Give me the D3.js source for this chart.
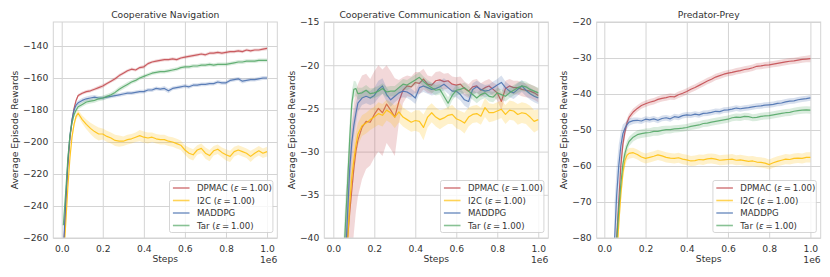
<!DOCTYPE html>
<html><head><meta charset="utf-8">
<script src="https://cdn.jsdelivr.net/npm/d3@7"></script>
<style>
body{margin:0;background:#fff}
text{font-family:"DejaVu Sans",sans-serif;fill:#333}
</style>
</head><body>
<svg id="chart" width="830" height="277"></svg>
<script>
// ---------------- DATA ----------------
const seriesNames = ["DPMAC", "I2C", "MADDPG", "Tar"];
const seriesEps = ["1.00", "1.00", null, "1.00"];
const panelTitles = ["Cooperative Navigation", "Cooperative Communication & Navigation", "Predator-Prey"];
const xTickValues = [0, 0.2, 0.4, 0.6, 0.8, 1.0];
const yTickValues = [
  [-260, -240, -220, -200, -180, -160, -140],
  [-40, -35, -30, -25, -20, -15],
  [-80, -70, -60, -50, -40, -30, -20]
];
const xLimits = [[-0.041, 1.05], [-0.044, 1.049], [-0.037, 1.05]];
const yLimits = [[-260, -125], [-40, -15], [-80, -20]];

// Panel 1: Cooperative Navigation
const p1Steps = [0.008,0.02,0.03,0.04,0.05,0.06,0.07,0.08,0.10,0.12,0.14,0.16,0.18,0.20,0.22,0.24,0.26,0.28,0.30,0.32,0.34,0.36,0.38,0.40,0.42,0.44,0.46,0.48,0.50,0.52,0.54,0.56,0.58,0.60,0.62,0.64,0.66,0.68,0.70,0.72,0.74,0.76,0.78,0.80,0.82,0.84,0.86,0.88,0.90,0.92,0.94,0.96,0.98,1.00];
const p1Dpmac = [-272,-238,-215,-198,-187,-179,-174,-171,-169.5,-168.5,-168,-167,-166,-165,-163.5,-162,-160.5,-158.5,-157,-155.5,-154.5,-155,-153.5,-153,-151,-150,-149.5,-149,-148.5,-148.5,-148,-148.5,-147.5,-147,-146.5,-146,-145.5,-145,-145.5,-144.5,-144.5,-144,-144.5,-144,-143.5,-143.5,-143,-143.5,-142.5,-143,-142.5,-142.5,-142,-141.5];
const p1DpmacSd = [3,2.5,2,1.5,1.2,1,1,1,1,1,1,1,1.2,1.2,1,1,1.2,1.2,1,1,1,1,1,1.2,1,1,1,1,1,1,1,1,1,1,1,1,1,1,1,1,1,1,1,1,1,1,1,1,1,1,1,1,1,1.1];
const p1I2c = [-275,-250,-228,-210,-197,-189,-184,-182,-186,-189,-191.5,-193.5,-195,-195,-196.5,-197.5,-199,-199.5,-199.5,-198.5,-198,-197,-196,-197,-197.5,-197,-198,-198.5,-198.5,-199.5,-200,-201,-202,-205,-207,-208,-205,-204,-207,-208.5,-205.5,-204.5,-206.5,-208,-209,-206,-205,-206,-207,-209,-207,-205.5,-207,-206];
const p1I2cSd = [3,3,2.5,2,2,2,2,2,2.5,3,3.5,4,4,3.5,3.5,3.5,3.5,3.5,3,3,3,3,3.5,3.5,3.5,3,3,3,3,3,3,3,3,3,3.5,3.5,3,3,3.5,3.5,3,3,3,3.5,3.5,3,3,3,3,3.5,3,3,3,3];
const p1Maddpg = [-268,-235,-212,-196,-186,-180,-177,-175.5,-174,-173,-172.5,-172,-172.5,-172.5,-172,-171.5,-171,-170.5,-170,-169.5,-169.5,-169,-168.5,-168.5,-167.5,-167.5,-166.5,-167,-166.5,-168,-166.5,-166,-165.5,-165,-165.5,-164.5,-164.5,-164,-164,-163.5,-163.5,-162.5,-163,-163,-161.5,-161,-160.5,-162,-161.5,-161,-161,-160.5,-160,-160];
const p1MaddpgSd = [3,2.5,2,1.5,1.5,1.5,1.5,1.5,1.5,1.5,1.5,1.3,1.3,1.2,1.2,1.2,1.2,1.2,1.2,1.2,1.2,1.2,1.2,1.2,1.2,1.2,1.2,1.2,1.5,1.5,1.2,1.2,1.2,1.2,1.2,1.2,1.2,1.2,1.2,1.2,1.2,1.2,1.2,1.2,1.2,1.2,1.2,1.5,1.2,1.2,1.2,1.2,1.2,1.2];
const p1Tar = [-252,-230,-210,-196,-188,-183,-180,-178,-176.5,-175,-174.5,-174,-173,-172.5,-171.5,-170.5,-169,-167,-165.5,-164,-162.5,-161.5,-160,-159,-158,-157,-156.5,-156,-156,-155.5,-155,-154.5,-153.5,-153,-153,-152.5,-152.5,-152,-152,-151.5,-152,-151.5,-151.5,-151.5,-151,-150.5,-150,-150,-149.5,-149.5,-149.5,-149,-149,-149];
const p1TarSd = [3,2.5,2,1.5,1.5,1.5,1.5,1.5,1.5,1.5,1.5,1.5,1.5,1.5,1.5,1.5,1.5,1.5,1.5,1.5,1.3,1.3,1.3,1.2,1.2,1.2,1.2,1.2,1.2,1.2,1.2,1.2,1.2,1.2,1.2,1.2,1.2,1.2,1.2,1.2,1.2,1.2,1.2,1.2,1.2,1.2,1.2,1.2,1.2,1.2,1.2,1.2,1.2,1.2];

// Panel 2: Cooperative Communication & Navigation
const p2Steps = [0.05,0.06,0.07,0.08,0.09,0.10,0.11,0.12,0.14,0.16,0.18,0.20,0.22,0.24,0.26,0.28,0.30,0.32,0.34,0.36,0.38,0.40,0.42,0.44,0.46,0.48,0.50,0.52,0.54,0.56,0.58,0.60,0.62,0.64,0.66,0.68,0.70,0.72,0.74,0.76,0.78,0.80,0.82,0.84,0.86,0.88,0.90,0.92,0.94,0.96,0.98,1.00];
const p2Dpmac = [-48,-44,-40,-37,-34.5,-32,-30,-28.7,-27.2,-26.5,-26.6,-25.7,-25,-25.5,-24.5,-25.2,-26,-24.2,-22.9,-22.4,-22.5,-22,-22.1,-21.6,-22.2,-22.3,-21.8,-21.7,-21.9,-21.8,-22.2,-22.3,-22.2,-22.7,-23,-22.5,-22.4,-22.9,-22.6,-22.4,-22.8,-23.2,-24.2,-22.7,-22.4,-22.6,-22.6,-22.8,-22.9,-23,-23.2,-23.5];
const p2DpmacSd = [6,7,8,8,8,7.5,7,6.5,6,5.5,5,5,5,5,4.5,4.5,4.5,2.5,1.5,1.2,1.2,1.2,1.3,1.2,1,1,1,1,0.9,0.9,0.9,0.9,0.9,0.8,0.8,0.8,0.8,0.8,0.8,0.8,0.8,0.9,1,0.9,0.8,0.8,0.8,0.8,0.8,0.8,0.8,0.8];
const p2I2c = [-50,-45,-40,-36,-33,-31,-29.3,-28,-27,-26.7,-26.3,-26,-25.6,-25.8,-25.2,-25.5,-26,-25.4,-26,-26.3,-26.6,-26.4,-26.5,-27.2,-26,-25.5,-26,-26.3,-26.1,-25.8,-25.7,-26.2,-26.4,-26.7,-26,-25.7,-25.6,-25.9,-24.9,-25.5,-25.5,-25.3,-25.1,-25.7,-25.2,-25.3,-25.7,-25.5,-25.6,-26,-26.5,-26.3];
const p2I2cSd = [3,3,3,2.5,2,1.8,1.5,1.3,1.2,1.2,1.2,1.2,1.3,1.3,1.2,1.2,1.3,1.2,1.1,1.1,1.1,1.2,1.3,1.5,1.2,1.1,1.1,1.1,1,1,1.1,1.1,1.1,1.2,1.1,1,1,1,1.1,1.1,1,1,1,1.1,1.1,1.1,1.2,1.2,1.2,1.3,1.3,1.2];
const p2Maddpg = [-47,-42,-37,-32,-29,-27,-25.6,-24.4,-23.8,-23.6,-23.8,-23.5,-22.8,-22.4,-23.4,-24,-23.6,-23.2,-23,-23.1,-23.4,-23.8,-22.6,-22.4,-22.6,-22.8,-22.7,-22.5,-22.2,-22.6,-23,-23,-23.4,-24,-24.2,-22.8,-22.5,-22.8,-23,-22.9,-22.6,-22.3,-22,-22.6,-23,-23.2,-22.8,-22.4,-22.9,-23.3,-23.6,-23.8];
const p2MaddpgSd = [3,3,3,2.5,2,1.5,1.2,1,0.8,0.8,0.8,0.9,1,0.9,0.8,0.8,0.7,0.7,0.7,0.7,0.7,0.7,0.7,0.7,0.7,0.7,0.7,0.7,0.7,0.7,0.7,0.7,0.7,0.7,0.8,0.7,0.7,0.7,0.7,0.7,0.7,0.7,0.8,0.7,0.7,0.7,0.7,0.7,0.7,0.7,0.7,0.7];
const p2Tar = [-43,-38,-33.5,-28.5,-24.5,-22.8,-22.7,-23.3,-23.2,-22.9,-23.3,-23.2,-23,-22.7,-23.1,-23,-23,-22.6,-22.2,-22.3,-22,-21.7,-21.4,-21.9,-22.3,-22.6,-22.9,-22.8,-23.6,-24.4,-23.5,-22.9,-22.8,-22.6,-23,-23.4,-23.8,-23.4,-23.2,-23.6,-23.7,-23.2,-23.4,-23.6,-23.2,-22.9,-22.6,-22.4,-22.5,-22.8,-23,-23.2];
const p2TarSd = [3,3,2.5,2,1.5,1,0.8,0.7,0.6,0.6,0.6,0.6,0.6,0.6,0.6,0.6,0.6,0.6,0.6,0.6,0.6,0.6,0.6,0.6,0.6,0.6,0.6,0.6,0.7,0.7,0.6,0.6,0.6,0.6,0.6,0.6,0.6,0.6,0.6,0.6,0.6,0.6,0.6,0.6,0.6,0.6,0.6,0.6,0.6,0.6,0.6,0.6];

// Panel 3: Predator-Prey
const p3Steps = [0.05,0.06,0.07,0.08,0.09,0.10,0.11,0.12,0.14,0.16,0.18,0.20,0.22,0.24,0.26,0.28,0.30,0.32,0.34,0.36,0.38,0.40,0.42,0.44,0.46,0.48,0.50,0.52,0.54,0.56,0.58,0.60,0.62,0.64,0.66,0.68,0.70,0.72,0.74,0.76,0.78,0.80,0.82,0.84,0.86,0.88,0.90,0.92,0.94,0.96,0.98,1.00];
const p3Dpmac = [-90,-80,-70,-60,-54,-50.5,-48,-46.5,-45,-44,-43.2,-42.7,-42.3,-42,-41.5,-41.2,-41,-40.7,-40.8,-40.2,-39.8,-39.3,-38.7,-38.2,-37.6,-37,-36.4,-35.9,-35.3,-34.9,-34.5,-34.2,-34,-33.7,-33.5,-33.2,-33,-32.7,-32.3,-32.2,-32,-31.9,-31.7,-31.5,-31.3,-31.1,-30.9,-30.8,-30.6,-30.4,-30.3,-30.2];
const p3DpmacSd = [4,4,3,2.5,2,1.5,1.2,1,1,0.9,0.9,0.9,0.9,0.9,0.9,0.9,0.9,0.9,0.9,0.9,0.9,0.9,0.9,0.9,0.9,0.9,0.9,0.9,0.9,0.9,0.9,0.9,0.9,0.9,0.9,0.9,0.9,0.9,0.9,0.9,0.9,0.9,0.9,0.9,0.9,0.9,0.9,0.9,0.9,0.9,0.9,1];
const p3I2c = [-100,-86,-76,-68,-62,-58.5,-57,-56.5,-56.3,-56.8,-57.5,-57.9,-57.6,-57.3,-56.9,-57.2,-57.6,-57.8,-57.9,-57.7,-58.1,-58.3,-58.6,-58.5,-58.2,-58.3,-58,-57.9,-58.1,-58.4,-58.3,-58.2,-58.1,-58.4,-58.3,-58.5,-58.7,-58.6,-58.9,-59,-59.2,-59.6,-59.1,-58.7,-58.4,-58.1,-58.2,-57.9,-57.8,-57.9,-57.6,-57.6];
const p3I2cSd = [3,3,3,2.5,2,1.8,1.5,1.5,1.4,1.4,1.4,1.4,1.4,1.4,1.4,1.4,1.4,1.4,1.4,1.4,1.4,1.4,1.4,1.4,1.4,1.4,1.4,1.4,1.4,1.4,1.4,1.4,1.4,1.4,1.4,1.4,1.4,1.4,1.4,1.4,1.4,1.4,1.4,1.4,1.4,1.4,1.4,1.4,1.4,1.4,1.4,1.4];
const p3Maddpg = [-80,-68,-60,-54.5,-51,-49.5,-48.5,-47.8,-47.4,-47.3,-47.5,-47,-47.2,-46.9,-47.3,-46.8,-46.6,-46.9,-46.3,-46.5,-46,-45.8,-45.9,-45.6,-45.8,-45.4,-45.3,-45.1,-44.8,-44.9,-44.5,-44.4,-44.2,-43.9,-44.1,-43.9,-43.8,-43.6,-43.4,-43.3,-43.1,-43,-42.9,-42.6,-42.5,-42.2,-42,-41.9,-41.6,-41.4,-41.3,-41.1];
const p3MaddpgSd = [10,8,6,4,2.5,1.5,1.2,1,0.9,0.8,0.8,0.8,0.8,0.8,0.8,0.8,0.8,0.8,0.8,0.8,0.8,0.8,0.8,0.8,0.8,0.8,0.8,0.8,0.8,0.8,0.8,0.8,0.8,0.8,0.8,0.8,0.8,0.8,0.8,0.8,0.8,0.8,0.8,0.8,0.8,0.8,0.8,0.8,0.8,0.8,0.8,0.8];
const p3Tar = [-95,-81,-72,-65,-59.5,-56.5,-54.5,-53.2,-52,-51.3,-51,-50.8,-50.7,-50.4,-50.4,-50.1,-49.9,-49.9,-49.7,-49.6,-49.5,-49.3,-49,-48.8,-48.6,-48.2,-48.1,-47.8,-47.6,-47.4,-47.2,-47,-46.6,-46.4,-46.5,-46.2,-46.3,-46.6,-46.5,-46.2,-46.1,-46,-45.8,-45.6,-45.4,-45.2,-45.1,-44.8,-44.6,-44.5,-44.4,-44.5];
const p3TarSd = [3,3,3,2.5,2,1.8,1.5,1.3,1.2,1.2,1.2,1.2,1.2,1.2,1.2,1.2,1.1,1.1,1,1,1,1,1,1,1,1,1,1,1,1,1,1,1,1,1,1,1,1,1,1,1,1,1,1,1,1,1,1,1,1,1,1];

const panelSteps = [p1Steps, p2Steps, p3Steps];
const panelValues = [
  [p1Dpmac, p1I2c, p1Maddpg, p1Tar],
  [p2Dpmac, p2I2c, p2Maddpg, p2Tar],
  [p3Dpmac, p3I2c, p3Maddpg, p3Tar]
];
const panelSpreads = [
  [p1DpmacSd, p1I2cSd, p1MaddpgSd, p1TarSd],
  [p2DpmacSd, p2I2cSd, p2MaddpgSd, p2TarSd],
  [p3DpmacSd, p3I2cSd, p3MaddpgSd, p3TarSd]
];

// ---------------- STYLE / LAYOUT ----------------
const colors = ["#c44e52", "#ffc10e", "#4c72b0", "#55a868"];
const panelLeft = [53.3, 324.3, 596.7];
const plotW = 224, plotTop = 22, plotBottom = 238;
const gridColor = "#d4d4d4";

const svg = d3.select("#chart");

panelTitles.forEach((title, pi) => {
  const L = panelLeft[pi], R = L + plotW;
  const x = d3.scaleLinear().domain(xLimits[pi]).range([L, R]);
  const y = d3.scaleLinear().domain(yLimits[pi]).range([plotBottom, plotTop]);
  const g = svg.append("g");

  // grid via axes
  const gx = g.append("g").attr("transform", `translate(0,${plotBottom})`)
    .call(d3.axisBottom(x).tickValues(xTickValues).tickSize(-(plotBottom - plotTop)).tickPadding(7).tickFormat(d3.format(".1f")));
  const gy = g.append("g").attr("transform", `translate(${L},0)`)
    .call(d3.axisLeft(y).tickValues(yTickValues[pi]).tickSize(-plotW).tickPadding(5).tickFormat(d3.format("d")));
  [gx, gy].forEach(a => {
    a.select(".domain").remove();
    a.selectAll(".tick line").attr("stroke", gridColor).attr("stroke-width", 1);
    a.selectAll(".tick text").attr("fill", "#333").style("font-size", "9.2px").style("font-family", '"DejaVu Sans",sans-serif');
  });

  // clip
  const cid = "clip" + pi;
  svg.append("clipPath").attr("id", cid).append("rect")
    .attr("x", L).attr("y", plotTop).attr("width", plotW).attr("height", plotBottom - plotTop);
  const plot = g.append("g").attr("clip-path", `url(#${cid})`);

  const steps = panelSteps[pi];
  seriesNames.forEach((name, si) => {
    const vals = panelValues[pi][si], sds = panelSpreads[pi][si];
    const n = Math.min(steps.length, vals.length, sds.length);
    const data = d3.range(n).map(i => ({s: steps[i], v: vals[i], sd: sds[i]}));
    plot.append("path").datum(data)
      .attr("d", d3.area().x(d => x(d.s)).y0(d => y(d.v - d.sd)).y1(d => y(d.v + d.sd)))
      .attr("fill", colors[si]).attr("fill-opacity", 0.22).attr("stroke", "none");
    plot.append("path").datum(data)
      .attr("d", d3.line().x(d => x(d.s)).y(d => y(d.v)))
      .attr("fill", "none").attr("stroke", colors[si]).attr("stroke-width", 1.2)
      .attr("stroke-opacity", 0.9).attr("stroke-linejoin", "round");
  });

  // frame
  g.append("rect").attr("x", L).attr("y", plotTop).attr("width", plotW).attr("height", plotBottom - plotTop)
    .attr("fill", "none").attr("stroke", gridColor).attr("stroke-width", 1);

  // title
  g.append("text").attr("x", (L + R) / 2).attr("y", 18).attr("text-anchor", "middle")
    .style("font-size", "9.2px").text(title);
  // x label
  g.append("text").attr("x", (L + R) / 2).attr("y", 262).attr("text-anchor", "middle")
    .style("font-size", "9.2px").text("Steps");
  // offset text
  g.append("text").attr("x", R).attr("y", 263).attr("text-anchor", "end")
    .style("font-size", "9.2px").text("1e6");
  // y label
  const yl = [15, 291.7, 563.3][pi];
  g.append("text").attr("transform", `translate(${yl},${(plotTop + plotBottom) / 2}) rotate(-90)`)
    .attr("text-anchor", "middle").attr("dy", "0.35em").style("font-size", "9.2px").text("Average Episode Rewards");

  // legend
  const lg = g.append("g");
  const frame = lg.append("rect");
  const texts = [];
  seriesNames.forEach((name, si) => {
    const row = lg.append("g").attr("class", "row");
    row.append("line").attr("class", "lline").attr("stroke", colors[si]).attr("stroke-width", 1.6).attr("stroke-opacity", 0.7);
    const t = row.append("text").style("font-size", "8.6px").attr("dy", "0.35em");
    t.append("tspan").text(name + (seriesEps[si] ? " (" : ""));
    if (seriesEps[si]) {
      t.append("tspan").style("font-style", "italic").text("ε");
      t.append("tspan").attr("dx", 1.8).text("=");
      t.append("tspan").attr("dx", 1.8).text(seriesEps[si] + ")");
    }
    texts.push(t);
  });
  const maxW = d3.max(texts, t => t.node().getComputedTextLength());
  const boxW = 27.4 + maxW + 4.6, boxH = 52;
  const bx = R - 4.4 - boxW, by = plotBottom - 5.5 - boxH;
  frame.attr("x", bx).attr("y", by).attr("width", boxW).attr("height", boxH).attr("rx", 2)
    .attr("fill", "#fff").attr("fill-opacity", 0.8).attr("stroke", "#cccccc").attr("stroke-width", 0.8);
  lg.selectAll("g.row").each(function(_, i) {
    const ry = by + 7.5 + i * 12.5;
    d3.select(this).select("line").attr("x1", bx + 3.4).attr("x2", bx + 20).attr("y1", ry).attr("y2", ry);
    d3.select(this).select("text").attr("x", bx + 27.4).attr("y", ry);
  });
});
</script>
</body></html>
